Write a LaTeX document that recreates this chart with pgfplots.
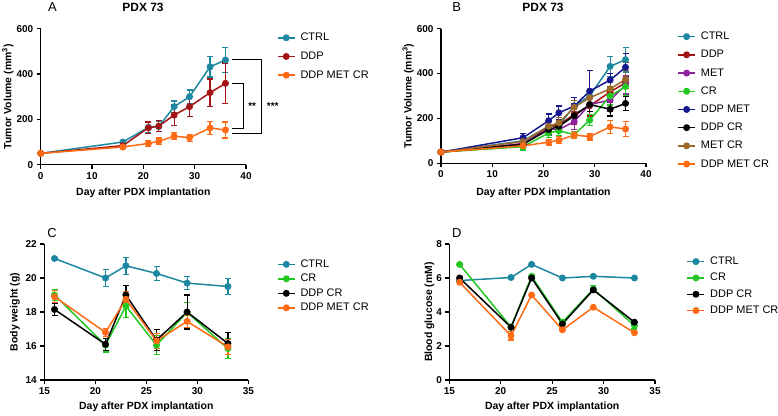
\documentclass[border=0pt]{standalone}
\usepackage{pgfplots}
\pgfplotsset{compat=1.18}
\usepackage{fontspec}
\setmainfont{Liberation Sans}
\definecolor{cctrl}{HTML}{1B87A0}
\definecolor{cddp}{HTML}{A31414}
\definecolor{cmet}{HTML}{8E22A0}
\definecolor{ccr}{HTML}{22C722}
\definecolor{cddpmet}{HTML}{16168E}
\definecolor{cddpcr}{HTML}{000000}
\definecolor{cmetcr}{HTML}{9B6A2A}
\definecolor{cdmc}{HTML}{FF6A14}
\pgfplotsset{
  prism/.style={
    scale only axis, anchor=south west,
    axis lines=left, axis line style={-, line width=1.3bp},
    tick align=outside, major tick length=4bp,
    every tick/.style={black, line width=1.2bp},
    /pgf/number format/assume math mode=true,
    ticklabel style={font=\bfseries\fontsize{10}{12}\selectfont},
    label style={font=\bfseries\fontsize{10.5}{12}\selectfont},
    clip=false,
    legend cell align=left,
    every axis plot/.append style={line width=1.5bp, mark=*, mark size=2.7bp,
      error bars/y dir=both, error bars/y explicit,
      error bars/error bar style={line width=1.2bp},
      error bars/error mark options={rotate=90, mark size=3bp, line width=1.2bp}},
  },
  leg/.style={legend style={at={#1}, anchor=north west, draw=none, fill=none,
    font=\fontsize{11}{12}\selectfont, inner sep=0pt, outer sep=0pt,
    nodes={inner sep=0pt, text height=8bp, text depth=2bp}, column sep=5bp}},
}
\begin{document}
\begin{tikzpicture}[x=1bp,y=1bp]
\path[use as bounding box] (0,0) rectangle (778,415);
% ---------- A ----------
\begin{axis}[prism, at={(40.7bp,250.3bp)}, width=205.3bp, height=136bp,
  xmin=0, xmax=40, ymin=0, ymax=600, xtick={0,10,20,30,40}, ytick={0,200,400,600},
  xlabel={Day after PDX implantation}, ylabel={Tumor Volume (mm\textsuperscript{3})},
  xlabel style={at={(axis description cs:0.5,-0.206)}, anchor=center},
  ylabel style={at={(axis description cs:-0.16,0.5)}, anchor=center},
  leg={(1.151,0.97)}, legend style={row sep=8.7bp}]
\addplot[color=cctrl, mark options={fill=cctrl}] coordinates {(0,50)+-(0,0) (16,100)+-(0,8) (21,165)+-(0,25) (23,168)+-(0,22) (26,256)+-(0,25) (29,300)+-(0,30) (33,432)+-(0,45) (36,462)+-(0,55)};
\addplot[color=cddp, mark options={fill=cddp}] coordinates {(0,50)+-(0,0) (16,84)+-(0,8) (21,163)+-(0,25) (23,170)+-(0,25) (26,219)+-(0,45) (29,256)+-(0,45) (33,318)+-(0,60) (36,359)+-(0,90)};
\addplot[color=cdmc, mark options={fill=cdmc}] coordinates {(0,50)+-(0,0) (16,78)+-(0,5) (21,94)+-(0,12) (23,103)+-(0,15) (26,126)+-(0,15) (29,119)+-(0,15) (33,162)+-(0,28) (36,153)+-(0,35)};
\legend{CTRL,DDP,DDP MET CR}
\draw[line width=1.2bp] (axis cs:37.2,465) -- (axis cs:43.06,465) -- (axis cs:43.06,138) -- (axis cs:37.2,138);
\draw[line width=1.2bp] (axis cs:37.2,359) -- (axis cs:39.5,359) -- (axis cs:39.5,160) -- (axis cs:37.2,160);
\node[font=\bfseries\fontsize{10}{12}\selectfont] at (axis cs:41.2,259) {**};
\node[font=\bfseries\fontsize{10}{12}\selectfont] at (axis cs:45.2,259) {***};
\end{axis}
% ---------- B ----------
\begin{axis}[prism, at={(441bp,251.7bp)}, width=205bp, height=134.6bp,
  xmin=0, xmax=40, ymin=0, ymax=600, xtick={0,10,20,30,40}, ytick={0,200,400,600},
  xlabel={Day after PDX implantation}, ylabel={Tumor Volume (mm\textsuperscript{3})},
  xlabel style={at={(axis description cs:0.5,-0.218)}, anchor=center},
  ylabel style={at={(axis description cs:-0.16,0.5)}, anchor=center},
  leg={(1.153,0.978)}, legend style={row sep=8.2bp}]
\addplot[color=cctrl, mark options={fill=cctrl}] coordinates {(0,50)+-(0,0) (16,100)+-(0,8) (21,165)+-(0,25) (23,168)+-(0,22) (26,256)+-(0,25) (29,300)+-(0,30) (33,432)+-(0,45) (36,462)+-(0,55)};
\addplot[color=cddp, mark options={fill=cddp}] coordinates {(0,50)+-(0,0) (16,84)+-(0,8) (21,163)+-(0,25) (23,170)+-(0,25) (26,219)+-(0,45) (29,256)+-(0,45) (33,318)+-(0,60) (36,359)+-(0,90)};
\addplot[color=cmet, mark options={fill=cmet}] coordinates {(0,50)+-(0,0) (16,88)+-(0,10) (21,155)+-(0,30) (23,150)+-(0,25) (26,186)+-(0,35) (29,262)+-(0,30) (33,282)+-(0,50) (36,349)+-(0,40)};
\addplot[color=ccr, mark options={fill=ccr}] coordinates {(0,50)+-(0,0) (16,74)+-(0,15) (21,135)+-(0,20) (23,145)+-(0,20) (26,128)+-(0,15) (29,192)+-(0,25) (33,300)+-(0,40) (36,342)+-(0,40)};
\addplot[color=cddpmet, mark options={fill=cddpmet}] coordinates {(0,50)+-(0,0) (16,114)+-(0,20) (21,190)+-(0,30) (23,225)+-(0,30) (26,255)+-(0,40) (29,322)+-(0,90) (33,371)+-(0,30) (36,428)+-(0,60)};
\addplot[color=cddpcr, mark options={fill=cddpcr}] coordinates {(0,50)+-(0,0) (16,85)+-(0,10) (21,150)+-(0,20) (23,165)+-(0,20) (26,212)+-(0,30) (29,262)+-(0,30) (33,241)+-(0,30) (36,267)+-(0,30)};
\addplot[color=cmetcr, mark options={fill=cmetcr}] coordinates {(0,50)+-(0,0) (16,97)+-(0,10) (21,165)+-(0,25) (23,180)+-(0,25) (26,250)+-(0,30) (29,292)+-(0,30) (33,332)+-(0,40) (36,374)+-(0,40)};
\addplot[color=cdmc, mark options={fill=cdmc}] coordinates {(0,50)+-(0,0) (16,78)+-(0,5) (21,94)+-(0,12) (23,103)+-(0,15) (26,126)+-(0,15) (29,119)+-(0,15) (33,162)+-(0,28) (36,153)+-(0,35)};
\legend{CTRL,DDP,MET,CR,DDP MET,DDP CR,MET CR,DDP MET CR}
\end{axis}
% ---------- C ----------
\begin{axis}[prism, at={(44.3bp,35bp)}, width=204bp, height=136bp,
  xmin=15, xmax=35, ymin=14, ymax=22, xtick={15,20,25,30,35}, ytick={14,16,18,20,22},
  xlabel={Day after PDX implantation}, ylabel={Body weight (g)},
  xlabel style={at={(axis description cs:0.5,-0.2)}, anchor=center},
  ylabel style={at={(axis description cs:-0.144,0.5)}, anchor=center},
  leg={(1.141,0.8875)}, legend style={row sep=4.5bp}]
\addplot[color=cctrl, mark options={fill=cctrl}] coordinates {(16,21.15)+-(0,0.08) (21,20.0)+-(0,0.5) (23,20.72)+-(0,0.5) (26,20.27)+-(0,0.42) (29,19.7)+-(0,0.38) (33,19.5)+-(0,0.48)};
\addplot[color=ccr, mark options={fill=ccr}] coordinates {(16,19.0)+-(0,0.3) (21,16.05)+-(0,0.4) (23,18.35)+-(0,0.65) (26,16.05)+-(0,0.55) (29,17.98)+-(0,0.6) (33,15.85)+-(0,0.6)};
\addplot[color=cddpcr, mark options={fill=cddpcr}] coordinates {(16,18.15)+-(0,0.35) (21,16.1)+-(0,0.35) (23,19.0)+-(0,0.55) (26,16.35)+-(0,0.6) (29,18.0)+-(0,1.0) (33,16.15)+-(0,0.65)};
\addplot[color=cdmc, mark options={fill=cdmc}] coordinates {(16,18.9)+-(0,0.35) (21,16.8)+-(0,0.25) (23,18.75)+-(0,0.45) (26,16.3)+-(0,0.45) (29,17.45)+-(0,0.35) (33,15.95)+-(0,0.45)};
\legend{CTRL,CR,DDP CR,DDP MET CR}
\end{axis}
% ---------- D ----------
\begin{axis}[prism, at={(449.3bp,35bp)}, width=205.7bp, height=136bp,
  xmin=15, xmax=35, ymin=0, ymax=8, xtick={15,20,25,30,35}, ytick={0,2,4,6,8},
  xlabel={Day after PDX implantation}, ylabel={Blood glucose (mM)},
  xlabel style={at={(axis description cs:0.5,-0.2)}, anchor=center},
  ylabel style={at={(axis description cs:-0.097,0.5)}, anchor=center},
  leg={(1.154,0.907)}, legend style={row sep=6.3bp}]
\addplot[color=cctrl, mark options={fill=cctrl}] coordinates {(16,5.85)+-(0,0.2) (21,6.03)+-(0,0.05) (23,6.8)+-(0,0.05) (26,6.0)+-(0,0.05) (29,6.1)+-(0,0.05) (33,6.0)+-(0,0.05)};
\addplot[color=ccr, mark options={fill=ccr}] coordinates {(16,6.8)+-(0,0.05) (21,3.12)+-(0,0.1) (23,6.1)+-(0,0.1) (26,3.4)+-(0,0.1) (29,5.35)+-(0,0.2) (33,3.2)+-(0,0.2)};
\addplot[color=cddpcr, mark options={fill=cddpcr}] coordinates {(16,6.0)+-(0,0.1) (21,3.1)+-(0,0.05) (23,6.0)+-(0,0.05) (26,3.3)+-(0,0.1) (29,5.3)+-(0,0.1) (33,3.4)+-(0,0.1)};
\addplot[color=cdmc, mark options={fill=cdmc}] coordinates {(16,5.75)+-(0,0.1) (21,2.6)+-(0,0.25) (23,5.0)+-(0,0.05) (26,2.95)+-(0,0.05) (29,4.28)+-(0,0.05) (33,2.78)+-(0,0.05)};
\legend{CTRL,CR,DDP CR,DDP MET CR}
\end{axis}
% ---------- panel letters and titles ----------
\node[font=\fontsize{13}{14}\selectfont] at (52.5,408) {A};
\node[font=\bfseries\fontsize{12}{14}\selectfont] at (143,408) {PDX 73};
\node[font=\fontsize{13}{14}\selectfont] at (456.7,408) {B};
\node[font=\bfseries\fontsize{12}{14}\selectfont] at (543,408) {PDX 73};
\node[font=\fontsize{13}{14}\selectfont] at (52,181.7) {C};
\node[font=\fontsize{13}{14}\selectfont] at (456.7,181.7) {D};
\end{tikzpicture}
\end{document}
